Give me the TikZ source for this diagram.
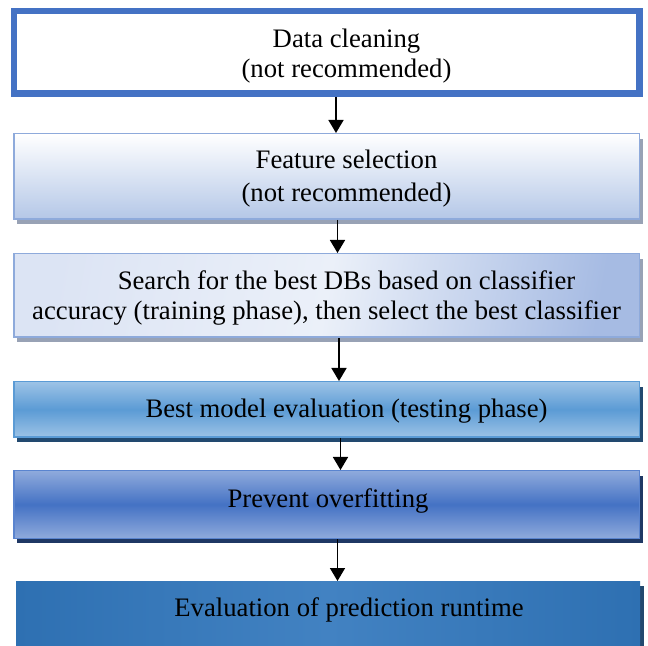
\documentclass[tikz,border=0pt]{standalone}
\usepackage{fontspec}
\setmainfont{Liberation Serif}
\usetikzlibrary{positioning,arrows.meta,shadows}
\definecolor{cleanline}{HTML}{4472C4}
\definecolor{featline}{HTML}{8EAADB}
\definecolor{featbot}{HTML}{B4C7E7}
\definecolor{greyshadow}{HTML}{98A2B5}
\definecolor{searchleft}{HTML}{DCE4F4}
\definecolor{searchmid}{HTML}{EBF0F9}
\definecolor{searchright}{HTML}{A6BBE3}
\definecolor{bestlight}{HTML}{9DC3E6}
\definecolor{bestmid}{HTML}{5B9BD5}
\definecolor{bestshadow}{HTML}{22496F}
\definecolor{prevlight}{HTML}{8FAADC}
\definecolor{prevmid}{HTML}{4472C4}
\definecolor{prevline}{HTML}{5A84CF}
\definecolor{prevshadow}{HTML}{1F3864}
\definecolor{runedge}{HTML}{2E70B2}
\definecolor{runmid}{HTML}{4282C2}

\begin{document}
\begin{tikzpicture}[
  stage/.style={rectangle, minimum width=312.75pt, inner sep=0pt,
                line width=0.75pt},
  lbl/.style={align=center, inner sep=0pt,
              font=\fontsize{13.35}{15}\selectfont},
  drop/.style={general shadow={shadow xshift=1.75pt, shadow yshift=-2.5pt,
                               fill=#1}},
  flow/.style={line width=0.8pt, -{Triangle[width=7.5pt,length=6.5pt]}},
  ]
  \useasboundingbox (0,0) rectangle (324pt,-323pt);
  % boxes
  \node[stage, draw=cleanline, line width=3.25pt, fill=white,
        minimum height=41.25pt] (clean) at (163.25pt,-26.25pt) {};
  \node[stage, drop=greyshadow, draw=featline, top color=white,
        bottom color=featbot, minimum height=42.75pt,
        below=18pt of clean] (feat) {};
  \node[stage, drop=greyshadow, draw=featline, left color=searchleft,
        right color=searchright, middle color=searchmid, shading angle=80,
        minimum height=41.75pt, below=16.5pt of feat] (search) {};
  \node[stage, drop=bestshadow, draw=bestmid, top color=bestlight,
        bottom color=bestlight, middle color=bestmid,
        minimum height=27.75pt, below=21.5pt of search] (best) {};
  \node[stage, drop=prevshadow, draw=prevline, top color=prevlight,
        bottom color=prevlight, middle color=prevmid,
        minimum height=33.75pt, below=16pt of best] (prevent) {};
  \node[stage, drop=bestshadow, outer sep=0pt, minimum width=312pt,
        left color=runedge, right color=runedge, middle color=runmid,
        minimum height=34.5pt, below=21pt of prevent, xshift=0.75pt] (runtime) {};
  % texts
  \node[lbl] (cleantxt) at ([xshift=10pt,yshift=-1.75pt]clean.center)
    {Data cleaning\\(not recommended)};
  \node[lbl] (feattxt) at ([xshift=10pt,yshift=-0.9pt]feat.center)
    {Feature selection\\[1.5pt](not recommended)};
  \node[lbl] (searchtxt) at ([yshift=-1.25pt]search.center)
    {\hspace*{20pt}Search for the best DBs based on classifier\\
     accuracy (training phase), then select the best classifier};
  \node[lbl] (besttxt) at ([xshift=10pt,yshift=-0.65pt]best.center)
    {Best model evaluation (testing phase)};
  \node[lbl] (preventtxt) at ([xshift=0.75pt,yshift=1.85pt]prevent.center)
    {Prevent overfitting};
  \node[lbl] (runtimetxt) at ([xshift=10.5pt,yshift=2.85pt]runtime.center)
    {Evaluation of prediction runtime};
  % arrows
  \draw[flow] ([xshift=4.75pt]clean.south) -- ([xshift=4.75pt]feat.north);
  \draw[flow] ([xshift=5.5pt]feat.south) -- ([xshift=5.5pt]search.north);
  \draw[flow] ([xshift=6.25pt]search.south) -- ([xshift=6.25pt]best.north);
  \draw[flow] ([xshift=7pt]best.south) -- ([xshift=7pt]prevent.north);
  \draw[flow] ([xshift=5.5pt]prevent.south) -- ([xshift=4.75pt]runtime.north);
\end{tikzpicture}
\end{document}
